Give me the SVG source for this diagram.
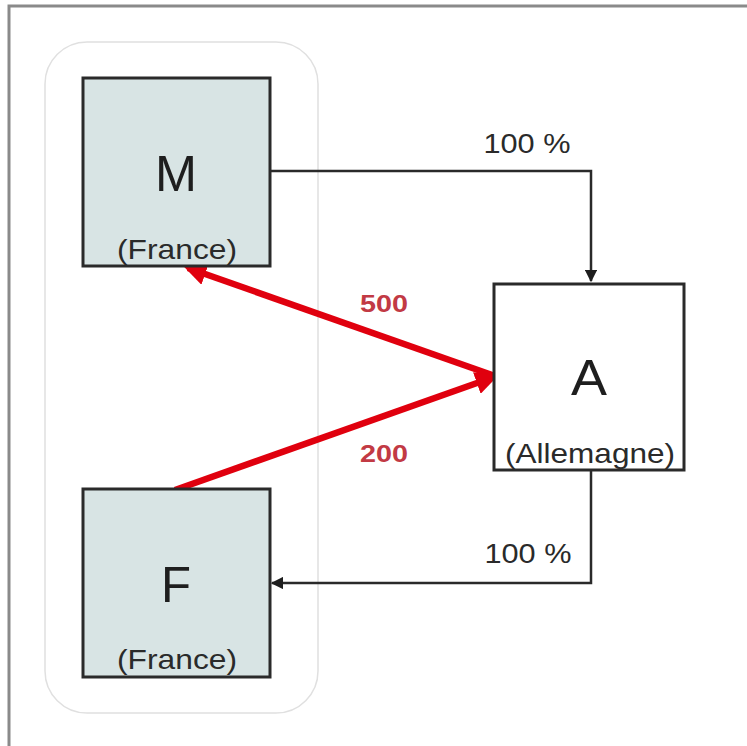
<svg xmlns="http://www.w3.org/2000/svg" width="747" height="746" viewBox="0 0 747 746">
  <style>
    .frame { fill: none; stroke: #8a8a8a; stroke-width: 3; }
    .group { fill: none; stroke: #e0e0e0; stroke-width: 1.5; }
    .entity { fill: #d8e4e4; stroke: #2a2a2a; stroke-width: 3; }
    .entity.plain { fill: #ffffff; }
    .big { font-family: "Liberation Sans", Arial, sans-serif; font-size: 50px; fill: #1e1e1e; text-anchor: middle; }
    .sub { font-family: "Liberation Sans", Arial, sans-serif; font-size: 28px; fill: #2a2a2a; text-anchor: middle; }
    .pct { font-family: "Liberation Sans", Arial, sans-serif; font-size: 28px; fill: #2a2a2a; text-anchor: middle; }
    .amt { font-family: "Liberation Sans", Arial, sans-serif; font-size: 24px; font-weight: bold; fill: #c23a44; text-anchor: middle; }
    .link { fill: none; stroke: #2a2a2a; stroke-width: 2.5; }
    .flow { fill: none; stroke: #e0000e; stroke-width: 6.5; }
  </style>
  <defs>
    <marker id="tip" viewBox="0 0 10 10" refX="9" refY="5" markerWidth="5" markerHeight="5" orient="auto" markerUnits="strokeWidth">
      <path d="M0,0 L10,5 L0,10 z" fill="#1e1e1e"/>
    </marker>
    <marker id="tipRed" viewBox="0 0 10 10" refX="8" refY="5" markerWidth="3.5" markerHeight="3.5" orient="auto" markerUnits="strokeWidth">
      <path d="M0,0 L10,5 L0,10 z" fill="#e0000e"/>
    </marker>
  </defs>

  <rect width="747" height="746" fill="#ffffff"/>
  <!-- outer frame: top and left edges -->
  <path class="frame" d="M9,746 V6 H747"/>

  <!-- French group outline -->
  <rect class="group" x="45" y="42" width="273" height="671" rx="42"/>

  <g id="connectors">
    <path class="link" d="M270,171 H591 V281" marker-end="url(#tip)"/>
    <path class="link" d="M591,470 V583 H272" marker-end="url(#tip)"/>
    <line class="flow" x1="495" y1="376" x2="188" y2="268" marker-end="url(#tipRed)"/>
    <line class="flow" x1="175" y1="490" x2="494" y2="377" marker-end="url(#tipRed)"/>
    <text class="pct" x="527" y="153" textLength="87" lengthAdjust="spacingAndGlyphs">100 %</text>
    <text class="pct" x="528" y="563" textLength="87" lengthAdjust="spacingAndGlyphs">100 %</text>
    <text class="amt" x="384" y="312" textLength="48" lengthAdjust="spacingAndGlyphs">500</text>
    <text class="amt" x="384" y="462" textLength="48" lengthAdjust="spacingAndGlyphs">200</text>
  </g>

  <g id="node-M">
    <rect class="entity" x="83" y="78" width="187" height="188"/>
    <text class="big" x="176" y="191" textLength="42" lengthAdjust="spacingAndGlyphs">M</text>
    <text class="sub" x="177" y="259" textLength="120" lengthAdjust="spacingAndGlyphs">(France)</text>
  </g>

  <g id="node-F">
    <rect class="entity" x="83" y="489" width="187" height="188"/>
    <text class="big" x="176" y="602" textLength="30" lengthAdjust="spacingAndGlyphs">F</text>
    <text class="sub" x="177" y="669" textLength="120" lengthAdjust="spacingAndGlyphs">(France)</text>
  </g>

  <g id="node-A">
    <rect class="entity plain" x="494" y="284" width="190" height="186"/>
    <text class="big" x="589" y="395" textLength="36" lengthAdjust="spacingAndGlyphs">A</text>
    <text class="sub" x="590" y="463" textLength="170" lengthAdjust="spacingAndGlyphs">(Allemagne)</text>
  </g>
</svg>
